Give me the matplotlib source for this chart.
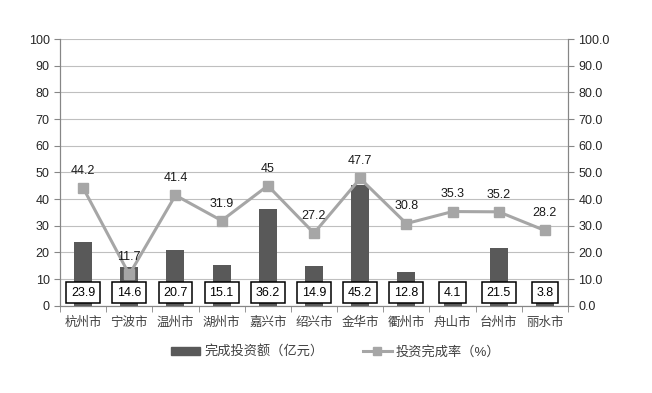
import matplotlib
matplotlib.use("Agg")
import matplotlib.pyplot as plt
from matplotlib.patches import Patch
from matplotlib.lines import Line2D
import numpy as np

plt.rcParams['font.family'] = ['Liberation Sans', 'Noto Sans CJK SC', 'DejaVu Sans']

cities = ['杭州市', '宁波市', '温州市', '湖州市', '嘉兴市', '绍兴市', '金华市', '衢州市', '舟山市', '台州市', '丽水市']
invest = [23.9, 14.6, 20.7, 15.1, 36.2, 14.9, 45.2, 12.8, 4.1, 21.5, 3.8]
rate = [44.2, 11.7, 41.4, 31.9, 45, 27.2, 47.7, 30.8, 35.3, 35.2, 28.2]
rate_labels = ['44.2', '11.7', '41.4', '31.9', '45', '27.2', '47.7', '30.8', '35.3', '35.2', '28.2']
left_ticks = list(range(0, 101, 10))
right_ticks = [0.0, 10.0, 20.0, 30.0, 40.0, 50.0, 60.0, 70.0, 80.0, 90.0, 100.0]

bar_color = '#595959'
line_color = '#A6A6A6'
axis_color = '#868686'

fig = plt.figure(figsize=(6.52, 3.93), dpi=100)
ax = fig.add_axes([60/652, 1-305.7/393, 508/652, (305.7-39)/393])
ax2 = ax.twinx()

x = np.arange(len(cities))
ax.bar(x, invest, width=0.39, color=bar_color, zorder=2)
ax.set_ylim(0, 100)
ax.set_xlim(-0.5, len(cities)-0.5)
ax.set_yticks(left_ticks)
ax.yaxis.grid(True, color='#BFBFBF', linewidth=0.8, zorder=0)
ax.set_axisbelow(True)

for xi, v in zip(x, invest):
    ax.text(xi, 4.9, f'{v}', ha='center', va='center', fontsize=9, zorder=5,
            bbox=dict(boxstyle='square,pad=0.38', facecolor='white', edgecolor='black', linewidth=1.1))

ax2.plot(x, rate, color=line_color, linewidth=2.2, marker='s', markersize=7.5,
         markerfacecolor=line_color, markeredgecolor=line_color, zorder=3)
ax2.set_ylim(0, 100)
ax2.set_yticks(right_ticks)
ax2.set_yticklabels([f'{t:.1f}' for t in right_ticks])
for xi, v, lab in zip(x, rate, rate_labels):
    ax2.annotate(lab, (xi, v), xytext=(0, 8), textcoords='offset points',
                 ha='center', va='bottom', fontsize=9, color='#1a1a1a')

ax.set_xticks(x)
ax.set_xticklabels(cities, fontsize=9, color='#404040')
ax.set_xticks(np.arange(-0.5, len(cities), 1), minor=True)
ax.tick_params(axis='x', which='major', length=0, pad=8)
ax.tick_params(axis='x', which='minor', length=4, color=axis_color)
ax.tick_params(axis='y', length=4, color=axis_color, labelsize=9, labelcolor='#262626')
ax2.tick_params(axis='y', length=4, color=axis_color, labelsize=9, labelcolor='#262626')

for a in (ax, ax2):
    for s in a.spines.values():
        s.set_color(axis_color)
    a.spines['top'].set_visible(False)

handles = [Patch(facecolor=bar_color, edgecolor=bar_color),
           Line2D([0], [0], color=line_color, linewidth=2.2, marker='s', markersize=6)]
fig.legend(handles, ['完成投资额（亿元）', '投资完成率（%）'], loc='center',
           bbox_to_anchor=(0.515, 1-352/393), ncol=2, frameon=False, fontsize=9.5,
           columnspacing=3.0, handlelength=2.2, handleheight=0.5, handletextpad=0.3,
           labelcolor='#404040')

fig.savefig('out.png', dpi=100)
